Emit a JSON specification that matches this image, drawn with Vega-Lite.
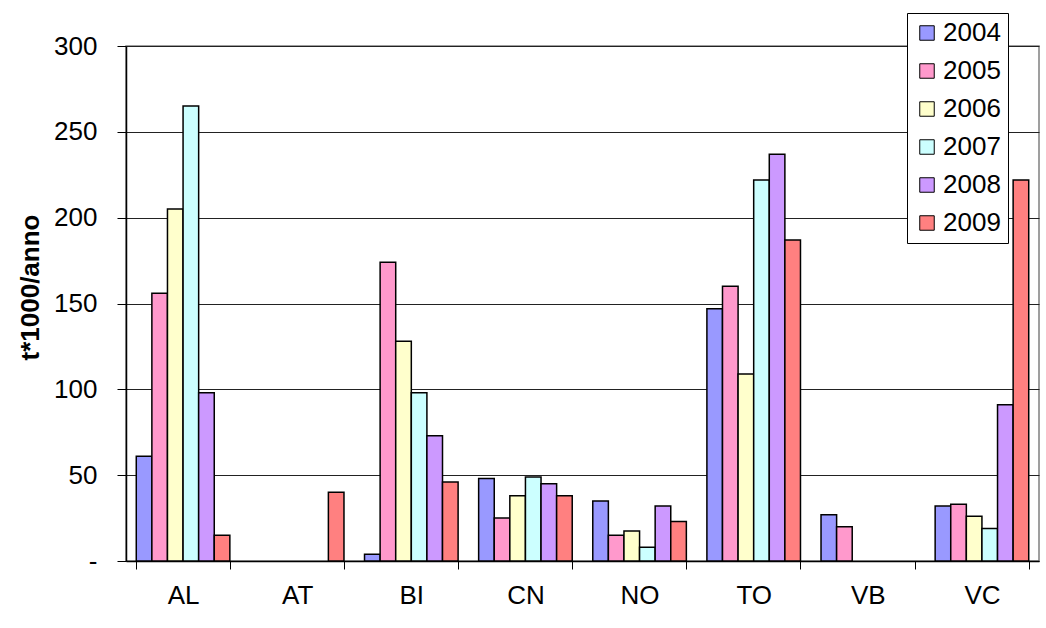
{
  "$schema": "https://vega.github.io/schema/vega-lite/v6.json",
  "width": 913,
  "height": 515,
  "autosize": {"type": "none"},
  "padding": {"left": 126, "top": 46, "right": 7, "bottom": 67},
  "background": "white",
  "data": {
    "values": [
      {"area": "AL", "year": "2004", "value": 61},
      {"area": "AL", "year": "2005", "value": 156},
      {"area": "AL", "year": "2006", "value": 205},
      {"area": "AL", "year": "2007", "value": 265},
      {"area": "AL", "year": "2008", "value": 98},
      {"area": "AL", "year": "2009", "value": 15},
      {"area": "AT", "year": "2004", "value": 0},
      {"area": "AT", "year": "2005", "value": 0},
      {"area": "AT", "year": "2006", "value": 0},
      {"area": "AT", "year": "2007", "value": 0},
      {"area": "AT", "year": "2008", "value": 0},
      {"area": "AT", "year": "2009", "value": 40},
      {"area": "BI", "year": "2004", "value": 4},
      {"area": "BI", "year": "2005", "value": 174},
      {"area": "BI", "year": "2006", "value": 128},
      {"area": "BI", "year": "2007", "value": 98},
      {"area": "BI", "year": "2008", "value": 73},
      {"area": "BI", "year": "2009", "value": 46},
      {"area": "CN", "year": "2004", "value": 48},
      {"area": "CN", "year": "2005", "value": 25},
      {"area": "CN", "year": "2006", "value": 38},
      {"area": "CN", "year": "2007", "value": 49},
      {"area": "CN", "year": "2008", "value": 45},
      {"area": "CN", "year": "2009", "value": 38},
      {"area": "NO", "year": "2004", "value": 35},
      {"area": "NO", "year": "2005", "value": 15},
      {"area": "NO", "year": "2006", "value": 17.5},
      {"area": "NO", "year": "2007", "value": 8},
      {"area": "NO", "year": "2008", "value": 32},
      {"area": "NO", "year": "2009", "value": 23},
      {"area": "TO", "year": "2004", "value": 147},
      {"area": "TO", "year": "2005", "value": 160},
      {"area": "TO", "year": "2006", "value": 109},
      {"area": "TO", "year": "2007", "value": 222},
      {"area": "TO", "year": "2008", "value": 237},
      {"area": "TO", "year": "2009", "value": 187},
      {"area": "VB", "year": "2004", "value": 27},
      {"area": "VB", "year": "2005", "value": 20},
      {"area": "VB", "year": "2006", "value": 0},
      {"area": "VB", "year": "2007", "value": 0},
      {"area": "VB", "year": "2008", "value": 0},
      {"area": "VB", "year": "2009", "value": 0},
      {"area": "VC", "year": "2004", "value": 32},
      {"area": "VC", "year": "2005", "value": 33},
      {"area": "VC", "year": "2006", "value": 26},
      {"area": "VC", "year": "2007", "value": 19},
      {"area": "VC", "year": "2008", "value": 91},
      {"area": "VC", "year": "2009", "value": 222}
    ]
  },
  "transform": [{"filter": "datum.value > 0"}],
  "mark": {"type": "bar", "stroke": "black", "strokeWidth": 1.5},
  "encoding": {
    "x": {
      "field": "area",
      "type": "nominal",
      "sort": ["AL", "AT", "BI", "CN", "NO", "TO", "VB", "VC"],
      "scale": {"domain": ["AL", "AT", "BI", "CN", "NO", "TO", "VB", "VC"], "paddingInner": 0.18, "paddingOuter": 0.09},
      "axis": {
        "title": null,
        "labelAngle": 0,
        "tickBand": "extent",
        "tickSize": 8,
        "tickColor": "black",
        "domainColor": "black",
        "labelFontSize": 26,
        "labelFont": "Liberation Sans",
        "labelColor": "black",
        "labelPadding": 13
      }
    },
    "xOffset": {
      "field": "year",
      "type": "nominal",
      "scale": {"domain": ["2004", "2005", "2006", "2007", "2008", "2009"], "padding": 0}
    },
    "y": {
      "field": "value",
      "type": "quantitative",
      "scale": {"domain": [0, 300], "nice": false},
      "axis": {
        "title": "t*1000/anno",
        "titleFont": "Liberation Sans",
        "titleFontSize": 26,
        "titleFontWeight": "bold",
        "titleColor": "black",
        "titlePadding": 10,
        "titleY": 241,
        "values": [0, 50, 100, 150, 200, 250, 300],
        "labelExpr": "datum.value == 0 ? '-' : datum.label",
        "labelFont": "Liberation Sans",
        "labelFontSize": 26,
        "labelColor": "black",
        "labelPadding": 20,
        "tickSize": 9,
        "tickColor": "black",
        "domainColor": "black",
        "grid": true,
        "gridColor": "#222",
        "gridWidth": 1
      }
    },
    "color": {
      "field": "year",
      "type": "nominal",
      "scale": {
        "domain": ["2004", "2005", "2006", "2007", "2008", "2009"],
        "range": ["#9999FF", "#FF99CC", "#FFFFCC", "#CCFFFF", "#CC99FF", "#FF8080"]
      },
      "legend": {
        "title": null,
        "orient": "none",
        "legendX": 781,
        "legendY": -33,
        "symbolType": "square",
        "symbolSize": 210,
        "symbolStrokeColor": "black",
        "symbolStrokeWidth": 1,
        "labelFont": "Liberation Sans",
        "labelFontSize": 26,
        "labelColor": "black",
        "labelOffset": 3,
        "rowPadding": 12,
        "padding": 7,
        "fillColor": "white",
        "strokeColor": "black"
      }
    }
  },
  "config": {
    "view": {"stroke": "#808080", "strokeWidth": 1.5},
    "axis": {"domainWidth": 1.5}
  }
}
